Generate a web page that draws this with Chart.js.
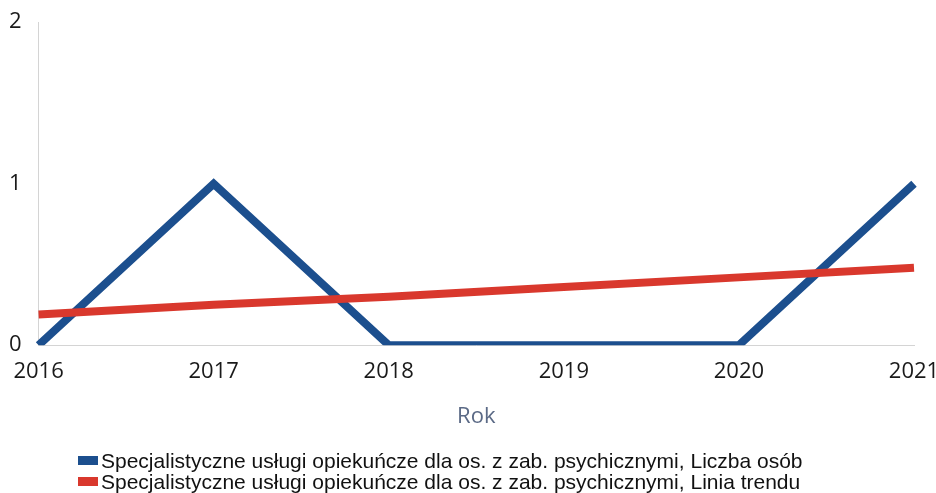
<!DOCTYPE html>
<html>
<head>
<meta charset="utf-8">
<script src="https://cdn.jsdelivr.net/npm/chart.js@4"></script>
<style>
    html, body { margin: 0; padding: 0; background: #fff; }
    #wrap { position: relative; width: 936px; height: 493px; }
    #legend {
        position: absolute; left: 78px; top: 450px;
        font-family: "Liberation Sans", Arial, sans-serif; font-size: 21px; color: #111;
        line-height: 21px;
    }
    #legend .box { display: inline-block; width: 20px; height: 9px; margin-right: 3px; vertical-align: 3px; }
</style>
</head>
<body>
<div id="wrap">
    <canvas id="chart" width="936" height="493"></canvas>
    <div id="legend"></div>
</div>
<script>
// Dane
const lata = ['2016', '2017', '2018', '2019', '2020', '2021'];
const liczbaOsob = [0, 1, 0, 0, 0, 1];
const liniaTrendu = [0.19, 0.25, 0.30, 0.36, 0.42, 0.48];
const nazwySerii = [
    'Specjalistyczne usługi opiekuńcze dla os. z zab. psychicznymi, Liczba osób',
    'Specjalistyczne usługi opiekuńcze dla os. z zab. psychicznymi, Linia trendu'
];

const COLORS = {
    niebieski: '#1c4f8e',
    czerwony: '#d9382d'
};

const ctx = document.getElementById('chart');

new Chart(ctx, {
    type: 'line',
    data: {
        labels: lata,
        datasets: [
            {
                label: nazwySerii[0],
                data: liczbaOsob,
                borderColor: COLORS.niebieski,
                backgroundColor: COLORS.niebieski,
                borderWidth: 8,
                pointRadius: 0,
                tension: 0,
                order: 2
            },
            {
                label: nazwySerii[1],
                data: liniaTrendu,
                borderColor: COLORS.czerwony,
                backgroundColor: COLORS.czerwony,
                borderWidth: 8,
                pointRadius: 0,
                tension: 0,
                order: 1
            }
        ]
    },
    options: {
        responsive: false,
        animation: false,
        layout: { padding: { top: 18, right: 0, bottom: 63, left: 0 } },
        plugins: {
            legend: { display: false },
            tooltip: { enabled: false }
        },
        scales: {
            x: {
                offset: false,
                grid: { display: false },
                border: { color: '#d4d4d4', width: 1, dash: [3, 2] },
                ticks: {
                    color: '#1a1a1a',
                    font: { family: '"Open Sans", sans-serif', size: 22 },
                    maxRotation: 0,
                    padding: 5
                },
                title: {
                    display: true,
                    text: 'Rok',
                    color: '#5b6a86',
                    font: { family: '"Open Sans", sans-serif', size: 22 },
                    padding: { top: 14, bottom: 0 }
                },
                // etykieta 2021 może wystawać za obszar wykresu
                afterFit: scale => { scale.paddingRight = 22; }
            },
            y: {
                min: 0,
                max: 2,
                grid: { display: false },
                border: { color: '#d4d4d4', width: 1 },
                ticks: {
                    stepSize: 1,
                    color: '#1a1a1a',
                    font: { family: '"Open Sans", sans-serif', size: 22 },
                    padding: 9
                }
            }
        }
    }
});

// Legenda jako tekst HTML
const legend = document.getElementById('legend');
legend.innerHTML = nazwySerii.map((nazwa, i) => {
    const kolor = i === 0 ? COLORS.niebieski : COLORS.czerwony;
    return '<div><span class="box" style="background:' + kolor + '"></span>' + nazwa + '</div>';
}).join('');
</script>
</body>
</html>
